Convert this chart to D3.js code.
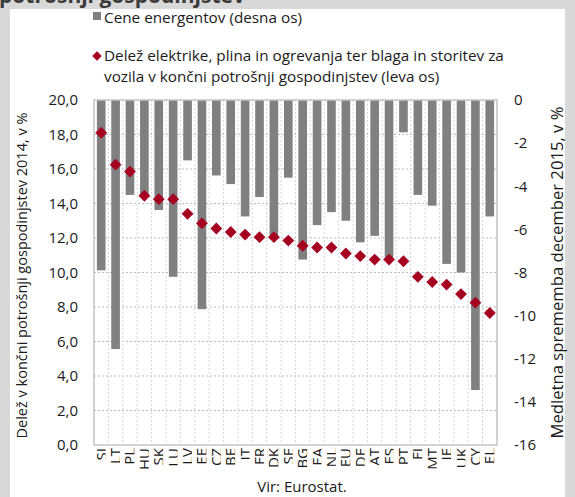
<!DOCTYPE html>
<html><head><meta charset="utf-8">
<script src="https://cdn.jsdelivr.net/npm/d3@7/dist/d3.min.js"></script>
<style>body{margin:0;background:#fff}svg{display:block}</style>
</head><body>
<svg id="c" width="575" height="497"></svg>
<script>
const categories = ["SI","LT","PL","HU","SK","LU","LV","EE","CZ","BE","IT","FR","DK","SE","BG","EA","NL","EU","DE","AT","ES","PT","FI","MT","IE","UK","CY","EL"];
const shareValues = [18.1,16.25,15.85,14.45,14.25,14.25,13.4,12.85,12.55,12.35,12.2,12.05,12.05,11.85,11.55,11.45,11.45,11.1,10.95,10.75,10.75,10.65,9.75,9.45,9.3,8.75,8.25,7.65];
const priceValues = [-7.9,-11.55,-4.4,-4.5,-5.1,-8.2,-2.8,-9.7,-3.5,-3.9,-5.4,-4.5,-6.3,-3.6,-7.4,-5.8,-5.2,-5.6,-6.6,-6.3,-7.3,-1.5,-4.4,-4.9,-7.6,-8.0,-13.45,-5.4];
const leftTicks = [0,2,4,6,8,10,12,14,16,18,20];
const rightTicks = [0,-2,-4,-6,-8,-10,-12,-14,-16];
const legendBars = "Cene energentov (desna os)";
const legendLine1 = "Delež elektrike, plina in ogrevanja ter blaga in storitev za";
const legendLine2 = "vozila v končni potrošnji gospodinjstev (leva os)";
const leftTitle = "Delež v končni potrošnji gospodinjstev 2014, v %";
const rightTitle = "Medletna sprememba december 2015, v %";
const source = "Vir: Eurostat.";
const topTitle = "potrošnji gospodinjstev";

const FONT = "'Open Sans', sans-serif";
const INK = "#1a1a1a";
const svg = d3.select("#c");
const L = 94, R = 497, T = 100, B = 445;

function fit(sel, target){
  const fs = +sel.attr("font-size");
  const len = sel.node().getComputedTextLength();
  sel.attr("font-size", (fs*target/len).toFixed(2));
  return +sel.attr("font-size");
}

// background frame
svg.append("rect").attr("width",575).attr("height",497).attr("fill","#d9d9d9");
svg.append("text").attr("x",-1).attr("y",3).attr("font-family",FONT).attr("font-weight","bold")
  .attr("font-size",21).attr("fill","#3a3a3a").text(topTitle);
svg.append("rect").attr("x",10).attr("y",9).attr("width",555).attr("height",488).attr("fill","#fff");

const x = d3.scaleBand().domain(categories).range([L,R]).padding(0);
const yL = d3.scaleLinear().domain([0,20]).range([B,T]);
const yR = d3.scaleLinear().domain([-16,0]).range([B,T]);
const bw = x.bandwidth()*0.6;

// grid
const g = svg.append("g");
g.selectAll("line.h").data(leftTicks.filter(d=>d>0&&d<20)).join("line")
  .attr("x1",L).attr("x2",R).attr("y1",d=>yL(d)).attr("y2",d=>yL(d))
  .attr("stroke","#bdbdbd").attr("stroke-width",1).attr("stroke-dasharray","2,2");
g.selectAll("line.v").data(categories.slice(1)).join("line")
  .attr("x1",d=>x(d)).attr("x2",d=>x(d)).attr("y1",T).attr("y2",B)
  .attr("stroke","#d6d6d6").attr("stroke-width",1).attr("stroke-dasharray","2,2");

// bars
svg.append("g").selectAll("rect").data(categories).join("rect")
  .attr("x",(d)=>x(d)+(x.bandwidth()-bw)/2)
  .attr("y",yR(0))
  .attr("width",bw)
  .attr("height",(d,i)=>yR(priceValues[i])-yR(0))
  .attr("fill","#808080");

// frame
svg.append("rect").attr("x",L).attr("y",T).attr("width",R-L).attr("height",B-T)
  .attr("fill","none").attr("stroke","#c4c4c4").attr("stroke-width",1.5);

// diamonds
const sym = d3.symbol().type(d3.symbolSquare).size(70);
svg.append("g").selectAll("path").data(categories).join("path")
  .attr("d",sym)
  .attr("transform",(d,i)=>`translate(${x(d)+x.bandwidth()/2},${yL(shareValues[i])}) rotate(45)`)
  .attr("fill","#a50021");

// axes
const ax = svg.append("g").attr("transform",`translate(${L},0)`)
  .call(d3.axisLeft(yL).tickValues(leftTicks).tickSize(0).tickPadding(16)
    .tickFormat(d=>d.toFixed(1).replace(".",",")));
const ax2 = svg.append("g").attr("transform",`translate(${R},0)`)
  .call(d3.axisRight(yR).tickValues(rightTicks).tickSize(0).tickPadding(17)
    .tickFormat(d=>String(d)));
[ax,ax2].forEach(a=>{a.select(".domain").remove();
  a.selectAll("text").attr("font-family",FONT).attr("font-size",15).attr("fill",INK);});

// x labels (clipped at glyph bottom)
const defs = svg.append("defs");
defs.append("clipPath").attr("id","lblclip").attr("clipPathUnits","userSpaceOnUse")
  .append("rect").attr("x",-100).attr("y",-40).attr("width",200).attr("height",38.9);
svg.append("g").selectAll("text").data(categories).join("text")
  .attr("transform",d=>`translate(${x(d)+x.bandwidth()/2+5.5},448) rotate(-90)`)
  .attr("text-anchor","end").attr("clip-path","url(#lblclip)")
  .attr("font-family",FONT).attr("font-size",15).attr("fill",INK).text(d=>d);

// axis titles
const lt = svg.append("text").attr("transform",`translate(27,${(T+B)/2+3}) rotate(-90)`).attr("text-anchor","middle")
  .attr("font-family",FONT).attr("font-size",15).attr("fill",INK).text(leftTitle);
fit(lt, 326);
const rt = svg.append("text").attr("transform",`translate(563,${(T+B)/2}) rotate(-90)`).attr("text-anchor","middle")
  .attr("font-family",FONT).attr("font-size",15).attr("fill",INK).text(rightTitle);
fit(rt, 332);

// legend
svg.append("rect").attr("x",93).attr("y",12).attr("width",8).attr("height",8).attr("fill","#808080");
const l0 = svg.append("text").attr("x",104).attr("y",23).attr("font-family",FONT).attr("font-size",15).attr("fill",INK).text(legendBars);
svg.append("path").attr("d",sym).attr("transform","translate(97,56) rotate(45) scale(0.8)").attr("fill","#a50021");
const l1 = svg.append("text").attr("x",104).attr("y",61).attr("font-family",FONT).attr("font-size",15).attr("fill",INK).text(legendLine1);
const lfs = fit(l1, 400);
l0.attr("font-size",lfs);
svg.append("text").attr("x",104).attr("y",82).attr("font-family",FONT).attr("font-size",lfs).attr("fill",INK).text(legendLine2);

// source
svg.append("text").attr("x",302).attr("y",492).attr("text-anchor","middle").attr("font-family",FONT)
  .attr("font-size",15).attr("fill",INK).text(source);
</script>
</body></html>
